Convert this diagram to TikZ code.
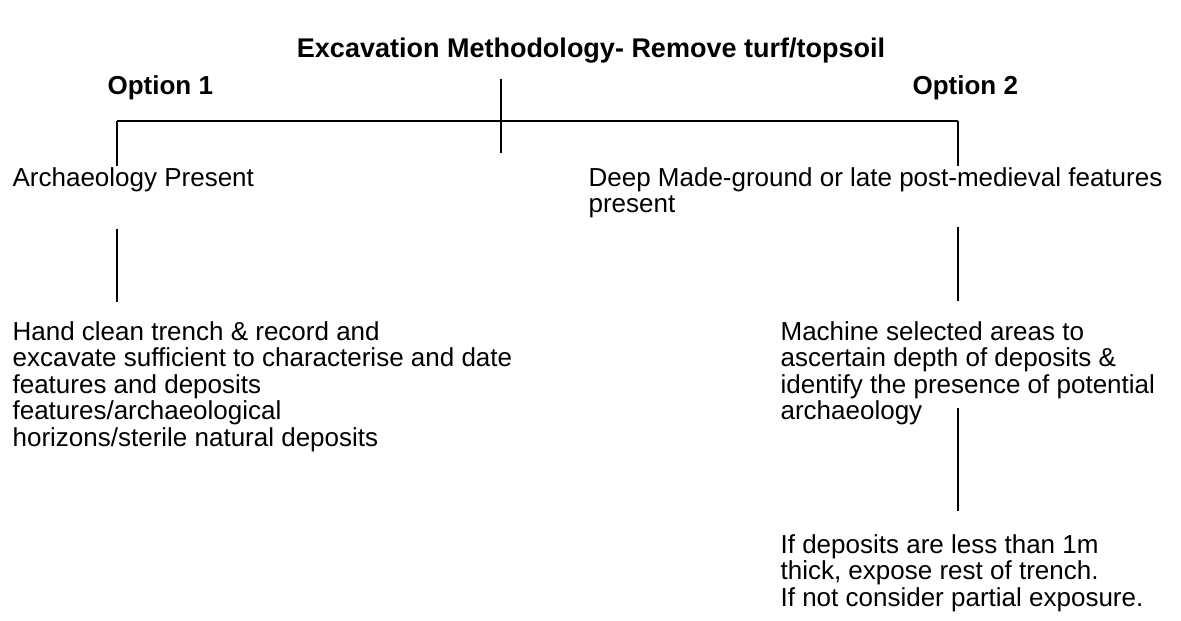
\documentclass[tikz,border=0pt]{standalone}
\usepackage{fontspec}
\setmainfont{Liberation Sans}

\begin{document}
\begin{tikzpicture}[x=1pt,y=-1pt,line width=1.2pt,
		every node/.style={inner sep=0pt,font=\fontsize{26}{26.6}\selectfont},
		txt/.style={anchor=base west,align=left}]
	\useasboundingbox (0,0) rectangle (1181,621);
	
	\node[anchor=base,font=\fontsize{27}{28}\selectfont\bfseries] (title) at (591,57) {Excavation Methodology- Remove turf/topsoil};
	\node[txt] (opt1) at (107,94) {\bfseries Option 1};
	\node[txt] (opt2) at (912,94) {\bfseries Option 2};
	
	\coordinate (stemtop) at (501,79);
	\coordinate (stembot) at (501,153);
	\coordinate (barl) at (117,121);
	\coordinate (barr) at (958,121);
	\coordinate (dropl) at (117,166);
	\coordinate (dropr) at (958,166);
	\draw (stemtop) -- (stembot);
	\draw (barl) -- (barr);
	\draw (barl) -- (dropl);
	\draw (barr) -- (dropr);
	
	\node[txt] (arch) at (12,186) {Archaeology Present};
	\node[txt] (deep) at (588,212.6) {Deep Made-ground or late post-medieval features\\present};
	
	\coordinate (l1) at (117,229);
	\coordinate (l2) at (117,302);
	\coordinate (r1) at (958,227);
	\coordinate (r2) at (958,301);
	\draw (l1) -- (l2);
	\draw (r1) -- (r2);
	
	\node[txt] (hand) at (12,446.4) {Hand clean trench \& record and\\excavate sufficient to characterise and date\\features and deposits\\features/archaeological\\horizons/sterile natural deposits};
	\node[txt] (mach) at (780,419.8) {Machine selected areas to\\ascertain depth of deposits \&\\identify the presence of potential\\archaeology};
	
	\coordinate (r3) at (958,408);
	\coordinate (r4) at (958,511);
	\draw (r3) -- (r4);
	
	\node[txt] (ifdep) at (780,606.2) {If deposits are less than 1m\\thick, expose rest of trench.\\If not consider partial exposure.};
\end{tikzpicture}
\end{document}
